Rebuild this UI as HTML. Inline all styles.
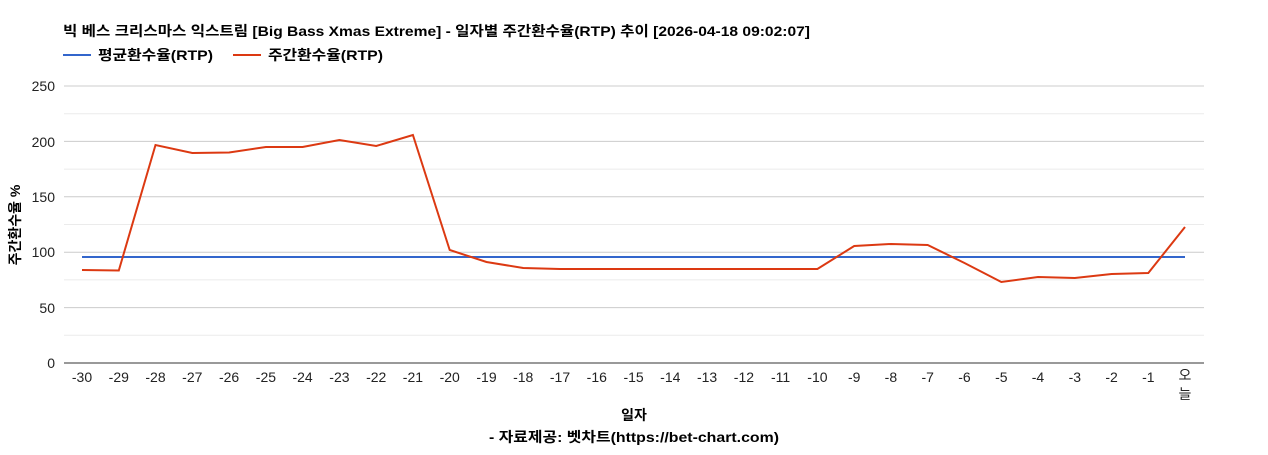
<!DOCTYPE html>
<html><head><meta charset="utf-8"><style>
body{margin:0;background:#fff;}
text{font-family:"Liberation Sans","Noto Sans CJK KR",sans-serif;}
</style></head><body>
<svg width="1268" height="450" xmlns="http://www.w3.org/2000/svg">
<text x="63" y="36" font-size="14" font-weight="bold" fill="#000" textLength="747" lengthAdjust="spacingAndGlyphs">빅 베스 크리스마스 익스트림 [Big Bass Xmas Extreme] - 일자별 주간환수율(RTP) 추이 [2026-04-18 09:02:07]</text>
<line x1="63" y1="55" x2="91" y2="55" stroke="#3366cc" stroke-width="2"/>
<text x="98" y="60" font-size="14" font-weight="bold" textLength="115" lengthAdjust="spacingAndGlyphs">평균환수율(RTP)</text>
<line x1="233" y1="55" x2="261" y2="55" stroke="#dc3912" stroke-width="2"/>
<text x="268" y="60" font-size="14" font-weight="bold" textLength="115" lengthAdjust="spacingAndGlyphs">주간환수율(RTP)</text>
<g stroke="#ebebeb" stroke-width="1">
<line x1="64" x2="1204" y1="335.3" y2="335.3"/><line x1="64" x2="1204" y1="279.9" y2="279.9"/><line x1="64" x2="1204" y1="224.5" y2="224.5"/><line x1="64" x2="1204" y1="169.1" y2="169.1"/><line x1="64" x2="1204" y1="113.7" y2="113.7"/>
</g>
<g stroke="#cccccc" stroke-width="1">
<line x1="64" x2="1204" y1="307.6" y2="307.6"/><line x1="64" x2="1204" y1="252.2" y2="252.2"/><line x1="64" x2="1204" y1="196.8" y2="196.8"/><line x1="64" x2="1204" y1="141.4" y2="141.4"/><line x1="64" x2="1204" y1="86" y2="86"/>
</g>
<line x1="64" x2="1204" y1="363" y2="363" stroke="#333"/>
<g font-size="14" text-anchor="end" fill="#222">
<text x="55" y="368">0</text><text x="55" y="313">50</text><text x="55" y="257">100</text><text x="55" y="202">150</text><text x="55" y="147">200</text><text x="55" y="91">250</text>
</g>
<text transform="translate(20,225) rotate(-90)" font-size="14" font-weight="bold" text-anchor="middle">주간환수율 %</text>
<g font-size="14" text-anchor="middle" fill="#222">
<text x="82.0" y="382">-30</text><text x="118.8" y="382">-29</text><text x="155.5" y="382">-28</text><text x="192.3" y="382">-27</text><text x="229.1" y="382">-26</text><text x="265.9" y="382">-25</text><text x="302.6" y="382">-24</text><text x="339.4" y="382">-23</text><text x="376.2" y="382">-22</text><text x="412.9" y="382">-21</text><text x="449.7" y="382">-20</text><text x="486.5" y="382">-19</text><text x="523.2" y="382">-18</text><text x="560.0" y="382">-17</text><text x="596.8" y="382">-16</text><text x="633.6" y="382">-15</text><text x="670.3" y="382">-14</text><text x="707.1" y="382">-13</text><text x="743.9" y="382">-12</text><text x="780.6" y="382">-11</text><text x="817.4" y="382">-10</text><text x="854.2" y="382">-9</text><text x="890.9" y="382">-8</text><text x="927.7" y="382">-7</text><text x="964.5" y="382">-6</text><text x="1001.3" y="382">-5</text><text x="1038.0" y="382">-4</text><text x="1074.8" y="382">-3</text><text x="1111.6" y="382">-2</text><text x="1148.3" y="382">-1</text><text x="1185" y="380">오</text><text x="1185" y="399">늘</text>
</g>
<polyline fill="none" stroke="#3366cc" stroke-width="2" points="82,257 1185,257"/>
<polyline fill="none" stroke="#dc3912" stroke-width="2" points="82.0,270 118.8,270.5 155.5,145 192.3,153 229.1,152.5 265.9,147 302.6,147 339.4,140 376.2,146 412.9,135 449.7,250 486.5,262 523.2,268 560.0,269 596.8,269 633.6,269 670.3,269 707.1,269 743.9,269 780.6,269 817.4,269 854.2,246 890.9,244 927.7,245 964.5,263 1001.3,282 1038.0,277 1074.8,278 1111.6,274 1148.3,273 1185,227"/>
<text x="634" y="420" font-size="14" font-weight="bold" text-anchor="middle">일자</text>
<text x="634" y="442" font-size="14" font-weight="bold" text-anchor="middle" textLength="290" lengthAdjust="spacingAndGlyphs">- 자료제공: 벳차트(https://bet-chart.com)</text>
</svg>
</body></html>
